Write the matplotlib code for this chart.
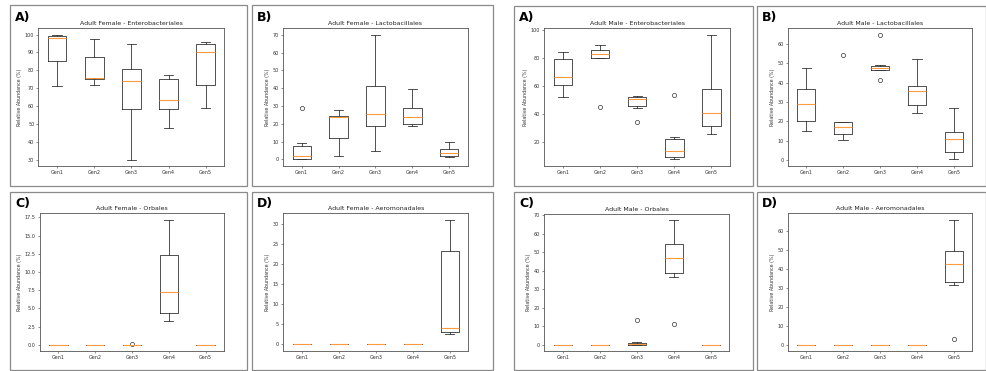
import matplotlib
matplotlib.use("Agg")
import matplotlib.pyplot as plt
from matplotlib.patches import Rectangle

W, H = 987, 371

genotypes = ["Gen1", "Gen2", "Gen3", "Gen4", "Gen5"]

# Female - Enterobacteriales
fe_ent_med = [98.0, 75.7, 74.0, 63.6, 90.5]
fe_ent_q1 = [85.3, 74.9, 58.6, 58.6, 71.8]
fe_ent_q3 = [99.3, 87.4, 80.7, 75.1, 95.0]
fe_ent_lo = [71.0, 72.0, 30.0, 47.8, 59.0]
fe_ent_hi = [100.0, 97.6, 94.8, 77.5, 95.7]
fe_ent_out = [[], [], [], [], []]

# Female - Lactobacillales
fe_lac_med = [2.0, 23.8, 25.6, 23.8, 3.9]
fe_lac_q1 = [0.4, 12.3, 18.9, 20.1, 1.9]
fe_lac_q3 = [7.6, 24.7, 41.2, 28.8, 5.9]
fe_lac_lo = [0.0, 2.2, 5.0, 18.8, 1.1]
fe_lac_hi = [9.1, 27.8, 70.2, 39.7, 10.0]
fe_lac_out = [[28.8], [], [], [], []]

# Female - Orbales
fe_orb_med = [0.0, 0.0, 0.0, 7.3, 0.0]
fe_orb_q1 = [0.0, 0.0, 0.0, 4.4, 0.0]
fe_orb_q3 = [0.0, 0.0, 0.0, 12.3, 0.0]
fe_orb_lo = [0.0, 0.0, 0.0, 3.3, 0.0]
fe_orb_hi = [0.0, 0.0, 0.0, 17.2, 0.0]
fe_orb_out = [[], [], [0.05], [], []]

# Female - Aeromonadales
fe_aer_med = [0.0, 0.0, 0.0, 0.0, 4.1]
fe_aer_q1 = [0.0, 0.0, 0.0, 0.0, 3.0]
fe_aer_q3 = [0.0, 0.0, 0.0, 0.0, 23.3]
fe_aer_lo = [0.0, 0.0, 0.0, 0.0, 2.5]
fe_aer_hi = [0.0, 0.0, 0.0, 0.0, 31.2]
fe_aer_out = [[], [], [], [], []]

# Male - Enterobacteriales
ma_ent_med = [66.3, 83.1, 50.4, 13.4, 40.9]
ma_ent_q1 = [60.4, 79.8, 45.4, 9.3, 31.6]
ma_ent_q3 = [79.6, 86.0, 52.3, 21.9, 58.2]
ma_ent_lo = [51.8, 79.8, 44.0, 7.4, 25.5]
ma_ent_hi = [84.6, 89.6, 53.2, 23.8, 96.9]
ma_ent_out = [[], [44.9], [34.2], [53.5], []]

# Male - Lactobacillales
ma_lac_med = [28.9, 16.8, 47.6, 35.6, 10.7]
ma_lac_q1 = [19.9, 13.6, 46.4, 28.4, 4.3]
ma_lac_q3 = [37.0, 19.4, 48.8, 38.3, 14.4]
ma_lac_lo = [14.8, 10.5, 46.4, 24.2, 0.2]
ma_lac_hi = [47.4, 19.8, 49.0, 52.4, 27.0]
ma_lac_out = [[], [54.5], [65.0, 41.4], [], []]

# Male - Orbales
ma_orb_med = [0.0, 0.0, 0.5, 47.0, 0.0]
ma_orb_q1 = [0.0, 0.0, 0.0, 38.5, 0.0]
ma_orb_q3 = [0.0, 0.0, 1.2, 54.3, 0.0]
ma_orb_lo = [0.0, 0.0, 0.0, 36.3, 0.0]
ma_orb_hi = [0.0, 0.0, 1.6, 67.2, 0.0]
ma_orb_out = [[], [], [13.5], [11.4], []]

# Male - Aeromonadales
ma_aer_med = [0.0, 0.0, 0.0, 0.0, 42.6]
ma_aer_q1 = [0.0, 0.0, 0.0, 0.0, 33.0]
ma_aer_q3 = [0.0, 0.0, 0.0, 0.0, 49.6]
ma_aer_lo = [0.0, 0.0, 0.0, 0.0, 31.4]
ma_aer_hi = [0.0, 0.0, 0.0, 0.0, 66.3]
ma_aer_out = [[], [], [], [], [3.2]]


def stats(med, q1, q3, lo, hi, out):
    return [dict(label=g, med=m, q1=a, q3=b, whislo=l, whishi=h, fliers=f)
            for g, m, a, b, l, h, f in zip(genotypes, med, q1, q3, lo, hi, out)]


# panel frame (x0, y0, x1, y1) and axes box (x0, y0, x1, y1) in pixels from top-left
panels = [
    ("A)", "Adult Female - Enterobacteriales",
     stats(fe_ent_med, fe_ent_q1, fe_ent_q3, fe_ent_lo, fe_ent_hi, fe_ent_out),
     (10, 5, 247, 186), (38.5, 28.3, 224.3, 166)),
    ("B)", "Adult Female - Lactobacillales",
     stats(fe_lac_med, fe_lac_q1, fe_lac_q3, fe_lac_lo, fe_lac_hi, fe_lac_out),
     (252.3, 5, 492.7, 186), (283.3, 28.3, 467.7, 165.7)),
    ("A)", "Adult Male - Enterobacteriales",
     stats(ma_ent_med, ma_ent_q1, ma_ent_q3, ma_ent_lo, ma_ent_hi, ma_ent_out),
     (514.3, 6, 752.7, 186), (544.3, 28.3, 730, 165.7)),
    ("B)", "Adult Male - Lactobacillales",
     stats(ma_lac_med, ma_lac_q1, ma_lac_q3, ma_lac_lo, ma_lac_hi, ma_lac_out),
     (757.3, 6, 986, 186), (787.7, 28.3, 972.3, 165.7)),
    ("C)", "Adult Female - Orbales",
     stats(fe_orb_med, fe_orb_q1, fe_orb_q3, fe_orb_lo, fe_orb_hi, fe_orb_out),
     (10, 191.5, 247, 370), (39.9, 213.3, 224.1, 351)),
    ("D)", "Adult Female - Aeromonadales",
     stats(fe_aer_med, fe_aer_q1, fe_aer_q3, fe_aer_lo, fe_aer_hi, fe_aer_out),
     (252.3, 191.5, 492.7, 370), (283.3, 213.3, 468.3, 350.7)),
    ("C)", "Adult Male - Orbales",
     stats(ma_orb_med, ma_orb_q1, ma_orb_q3, ma_orb_lo, ma_orb_hi, ma_orb_out),
     (514.3, 191.5, 752.7, 370), (544.3, 214, 729.3, 351)),
    ("D)", "Adult Male - Aeromonadales",
     stats(ma_aer_med, ma_aer_q1, ma_aer_q3, ma_aer_lo, ma_aer_hi, ma_aer_out),
     (757.3, 191.5, 986, 370), (787.7, 213.3, 972.3, 351)),
]

fig = plt.figure(figsize=(W / 100, H / 100), dpi=100)
fig.patch.set_facecolor("white")

line_col = "#333333"
for tag, title, st, frame, box in panels:
    fx0, fy0, fx1, fy1 = frame
    fig.add_artist(Rectangle((fx0 / W, 1 - fy1 / H), (fx1 - fx0) / W, (fy1 - fy0) / H,
                             transform=fig.transFigure, fill=False,
                             edgecolor="#8a8a8a", linewidth=0.9))
    fig.text((fx0 + 5) / W, 1 - (fy0 + 12) / H, tag, fontsize=9,
             fontweight="bold", ha="left", va="center")

    ax0, ay0, ax1, ay1 = box
    ax = fig.add_axes([ax0 / W, 1 - ay1 / H, (ax1 - ax0) / W, (ay1 - ay0) / H])
    ax.bxp(st, widths=0.5, showfliers=True,
           boxprops=dict(color=line_col, linewidth=0.6),
           whiskerprops=dict(color=line_col, linewidth=0.6),
           capprops=dict(color=line_col, linewidth=0.6),
           medianprops=dict(color="#ff9a40", linewidth=0.8),
           flierprops=dict(marker="o", markersize=3, markerfacecolor="none",
                           markeredgecolor=line_col, markeredgewidth=0.5))
    ax.set_title(title, fontsize=4.5, pad=2.5, color="#222222")
    ax.set_ylabel("Relative Abundance (%)", fontsize=3.4, labelpad=2, color="#333333")
    ax.tick_params(labelsize=3.5, length=1.5, width=0.4, pad=1.5, colors="#333333")
    for s in ax.spines.values():
        s.set_linewidth(0.6)
        s.set_edgecolor("#555555")

fig.savefig("out.png", dpi=100)
